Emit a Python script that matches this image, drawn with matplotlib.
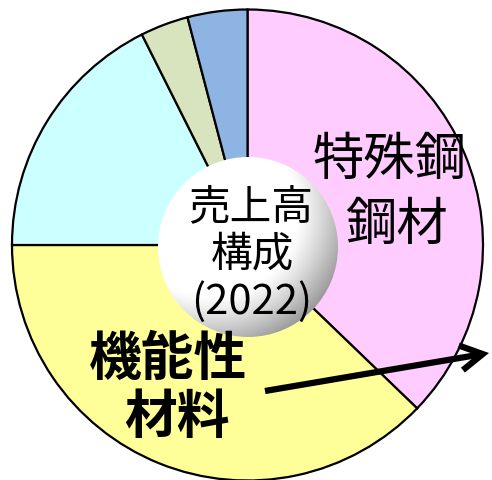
import numpy as np
import matplotlib
matplotlib.use("Agg")
import matplotlib.pyplot as plt
from matplotlib.patches import Circle, FancyArrowPatch

# Data (clockwise from 12 o'clock)
segments = ["特殊鋼鋼材", "機能性材料", "その他1", "その他2", "その他3"]
shares = [37.2, 37.8, 17.6, 3.3, 4.1]
colors = ["#FFCCFF", "#FFFF99", "#CCFFFF", "#D7E4BD", "#8EB4E3"]
center_lines = ["売上高", "構成", "(2022)"]
special_lines = ["特殊鋼", "鋼材"]
func_lines = ["機能性", "材料"]

W, H = 492, 480
fig = plt.figure(figsize=(W / 100, H / 100), dpi=100)
ax = fig.add_axes([0, 0, 1, 1])

cx, cy, R = 247.5, H - 245, 235.5
ax.pie(shares, colors=colors, startangle=90, counterclock=False,
       center=(cx, cy), radius=R, frame=True,
       wedgeprops=dict(edgecolor="black", linewidth=1.6))

# shaded center disc
ccx, ccy, cr = 248, H - 247, 90
n = 300
xs = np.linspace(-1, 1, n)
X, Y = np.meshgrid(xs, xs)
d = np.sqrt((X + 0.4) ** 2 + (Y - 0.4) ** 2)
shade = 1 - 0.55 * np.clip((d - 0.95) / 0.8, 0, 1) ** 1.2
img = np.dstack([shade, shade, shade])
im = ax.imshow(img, extent=(ccx - cr, ccx + cr, ccy - cr, ccy + cr),
               origin="lower", zorder=3, interpolation="bilinear")
clip = Circle((ccx, ccy), cr, transform=ax.transData, facecolor="none", edgecolor="none")
ax.add_patch(clip)
im.set_clip_path(clip)

jp = ["Noto Sans CJK JP", "DejaVu Sans"]
for txt, x, y in zip(center_lines, [251, 252, 252], [208, 255, 302]):
    ax.text(x, H - y, txt, ha="center", va="center", fontsize=30,
            family=jp, zorder=4)
for txt, x, y in zip(special_lines, [390, 397], [160, 225]):
    ax.text(x, H - y, txt, ha="center", va="center", fontsize=37,
            family=jp, zorder=4)
for txt, x, y in zip(func_lines, [168, 177], [360, 418]):
    ax.text(x, H - y, txt, ha="center", va="center", fontsize=38,
            family=jp, fontweight="bold", zorder=4)

arrow = FancyArrowPatch((265, H - 391), (489, H - 353),
                        arrowstyle="->,head_length=16,head_width=9",
                        linewidth=4.5, color="black", zorder=5,
                        shrinkA=0, shrinkB=0, joinstyle="miter", capstyle="butt")
ax.add_patch(arrow)

ax.set_xlim(0, W)
ax.set_ylim(0, H)
ax.set_aspect("auto")
ax.axis("off")
fig.savefig("out.png", dpi=100)
